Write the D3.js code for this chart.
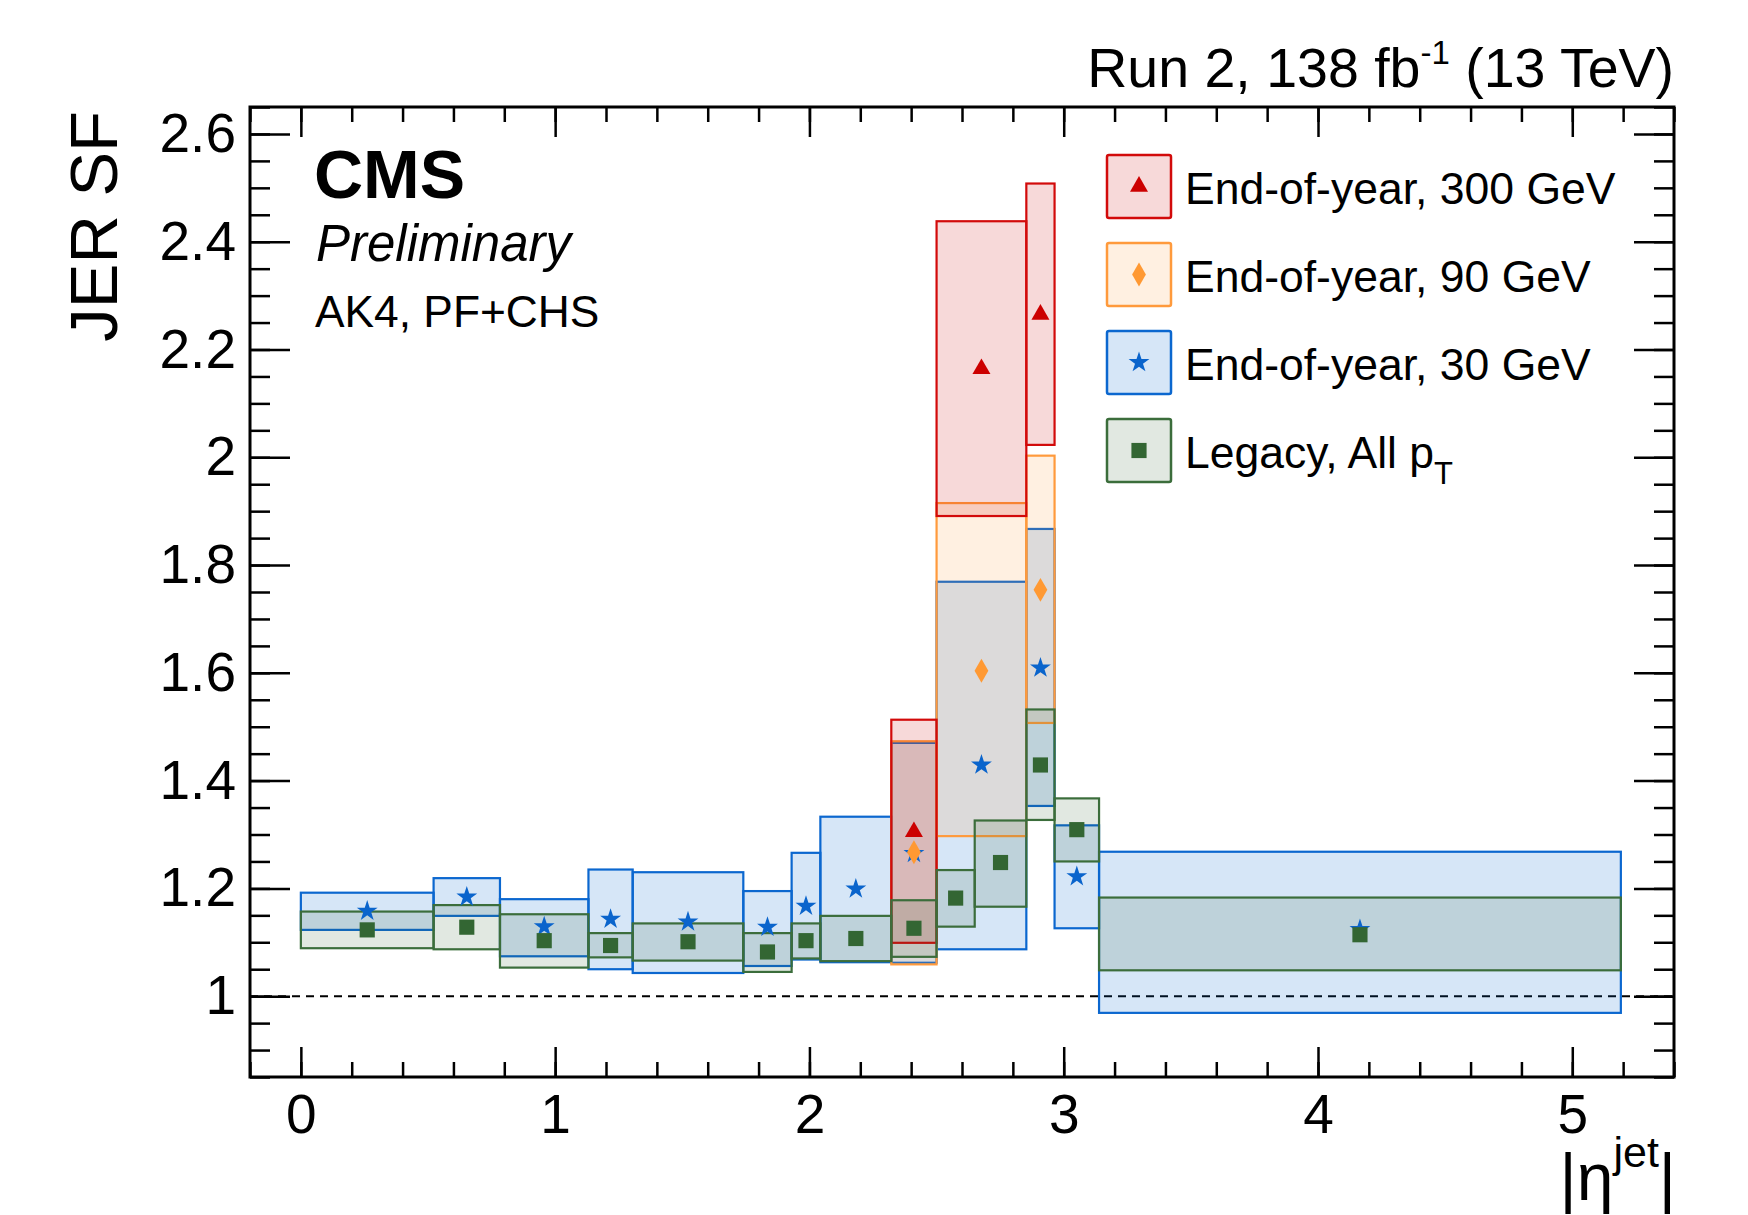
<!DOCTYPE html>
<html>
<head>
<meta charset="utf-8">
<script src="https://cdn.jsdelivr.net/npm/d3@7"></script>
<style>
body { margin: 0; background: #fff; }
svg { display: block; font-family: "Liberation Sans", Arial, Helvetica, sans-serif; }
</style>
</head>
<body>
<svg id="chart" width="1748" height="1215"></svg>
<script>
// |eta| bin edges
const etaEdges = [0, 0.522, 0.783, 1.131, 1.305, 1.740, 1.930, 2.043, 2.322, 2.500, 2.853, 2.964, 3.139, 5.191];
const legacyEdges = [0, 0.522, 0.783, 1.131, 1.305, 1.740, 1.930, 2.043, 2.322, 2.500, 2.650, 2.853, 2.964, 3.139, 5.191];
const fwdEdges = [2.322, 2.500, 2.853, 2.964];

// End-of-year, 300 GeV (forward bins only)
const sf300 = [1.305, 2.164, 2.265];
const sf300Lo = [1.099, 1.891, 2.023];
const sf300Hi = [1.513, 2.438, 2.508];

// End-of-year, 90 GeV (forward bins only)
const sf90 = [1.267, 1.604, 1.754];
const sf90Lo = [1.059, 1.297, 1.507];
const sf90Hi = [1.473, 1.915, 2.003];

// End-of-year, 30 GeV
const sf30 = [1.158, 1.184, 1.129, 1.143, 1.138, 1.128, 1.167, 1.199, 1.265, 1.429, 1.609, 1.222, 1.124];
const sf30Lo = [1.123, 1.149, 1.074, 1.050, 1.043, 1.056, 1.068, 1.063, 1.062, 1.087, 1.353, 1.126, 0.969];
const sf30Hi = [1.192, 1.219, 1.180, 1.235, 1.230, 1.195, 1.266, 1.333, 1.470, 1.769, 1.867, 1.317, 1.268];

// Legacy, all pT
const sfLegacy = [1.123, 1.128, 1.103, 1.094, 1.101, 1.082, 1.103, 1.107, 1.126, 1.182, 1.248, 1.429, 1.309, 1.114];
const sfLegacyLo = [1.089, 1.087, 1.053, 1.072, 1.066, 1.045, 1.070, 1.065, 1.073, 1.129, 1.166, 1.327, 1.250, 1.048];
const sfLegacyHi = [1.157, 1.169, 1.152, 1.117, 1.135, 1.117, 1.135, 1.149, 1.178, 1.234, 1.326, 1.532, 1.367, 1.183];

const xMajor = [0, 1, 2, 3, 4, 5];
const xTickLabels = ["0", "1", "2", "3", "4", "5"];
const yMajor = [1, 1.2, 1.4, 1.6, 1.8, 2, 2.2, 2.4, 2.6];
const yTickLabels = ["1", "1.2", "1.4", "1.6", "1.8", "2", "2.2", "2.4", "2.6"];
const legendLabels = ["End-of-year, 300 GeV", "End-of-year, 90 GeV", "End-of-year, 30 GeV", "Legacy, All p"];

const svg = d3.select("#chart");
const frameL = 250, frameR = 1674, frameT = 107, frameB = 1077;

const x = d3.scaleLinear().domain([-0.2, 5.4]).range([frameL, frameR]);
const y = d3.scaleLinear().domain([0.85, 2.65]).range([frameB, frameT]);

function toBins(edges, c, lo, hi) {
    return c.map((v, i) => ({ x0: edges[i], x1: edges[i + 1], c: v, lo: lo[i], hi: hi[i] }));
}

const series = [
    { bins: toBins(etaEdges, sf30, sf30Lo, sf30Hi), stroke: "#0b67cf", fill: "rgba(0,102,204,0.16)", mark: "#0a64cc", sym: d3.symbolStar, size: 135 },
    { bins: toBins(fwdEdges, sf90, sf90Lo, sf90Hi), stroke: "#ff9a3c", fill: "rgba(255,153,51,0.15)", mark: "#ff9933", sym: d3.symbolDiamond, size: 165 },
    { bins: toBins(fwdEdges, sf300, sf300Lo, sf300Hi), stroke: "#d20a0a", fill: "rgba(204,0,0,0.15)", mark: "#cc0000", sym: d3.symbolTriangle, size: 140 },
    { bins: toBins(legacyEdges, sfLegacy, sfLegacyLo, sfLegacyHi), stroke: "#3b6d3b", fill: "rgba(51,102,51,0.15)", mark: "#336633", sym: d3.symbolSquare, size: 230 }
];

// reference line at 1
svg.append("line")
    .attr("x1", x(-0.2)).attr("x2", x(5.4))
    .attr("y1", y(1)).attr("y2", y(1))
    .attr("stroke", "#000").attr("stroke-width", 2)
    .attr("stroke-dasharray", "8,6");

// uncertainty boxes
series.forEach((s) => {
    svg.append("g")
        .selectAll("rect")
        .data(s.bins)
        .join("rect")
        .attr("x", (d) => x(d.x0))
        .attr("y", (d) => y(d.hi))
        .attr("width", (d) => x(d.x1) - x(d.x0))
        .attr("height", (d) => y(d.lo) - y(d.hi))
        .attr("fill", s.fill)
        .attr("stroke", s.stroke)
        .attr("stroke-width", 2.2);
});

// markers at bin centres
series.forEach((s) => {
    svg.append("g")
        .selectAll("path")
        .data(s.bins)
        .join("path")
        .attr("transform", (d) => `translate(${x((d.x0 + d.x1) / 2)},${y(d.c)})`)
        .attr("d", d3.symbol().type(s.sym).size(s.size))
        .attr("fill", s.mark);
});

// axes, ticks inside the frame
const xMinor = d3.range(-1, 28).map((i) => i * 0.2);
const yMinor = d3.range(17, 54).map((i) => i * 0.05);

function styleAxis(g) {
    g.select(".domain").remove();
    g.selectAll("line").attr("stroke", "#000").attr("stroke-width", 2.5);
    g.selectAll("text").attr("fill", "#000");
    g.attr("font-family", null).attr("font-size", 55);
}

svg.append("g").attr("transform", `translate(0,${frameB})`)
    .call(d3.axisBottom(x).tickValues(xMinor).tickSize(-15).tickFormat(""))
    .call(styleAxis);
svg.append("g").attr("transform", `translate(0,${frameB})`)
    .call(d3.axisBottom(x).tickValues(xMajor).tickSize(-30).tickPadding(17)
        .tickFormat((d, i) => xTickLabels[i]))
    .call(styleAxis);
svg.append("g").attr("transform", `translate(0,${frameT})`)
    .call(d3.axisTop(x).tickValues(xMinor).tickSize(-15).tickFormat(""))
    .call(styleAxis);
svg.append("g").attr("transform", `translate(0,${frameT})`)
    .call(d3.axisTop(x).tickValues(xMajor).tickSize(-30).tickFormat(""))
    .call(styleAxis);

svg.append("g").attr("transform", `translate(${frameL},0)`)
    .call(d3.axisLeft(y).tickValues(yMinor).tickSize(-20).tickFormat(""))
    .call(styleAxis);
svg.append("g").attr("transform", `translate(${frameL},0)`)
    .call(d3.axisLeft(y).tickValues(yMajor).tickSize(-40).tickPadding(14)
        .tickFormat((d, i) => yTickLabels[i]))
    .call(styleAxis);
svg.append("g").attr("transform", `translate(${frameR},0)`)
    .call(d3.axisRight(y).tickValues(yMinor).tickSize(-20).tickFormat(""))
    .call(styleAxis);
svg.append("g").attr("transform", `translate(${frameR},0)`)
    .call(d3.axisRight(y).tickValues(yMajor).tickSize(-40).tickFormat(""))
    .call(styleAxis);

// frame
svg.append("rect")
    .attr("x", frameL).attr("y", frameT)
    .attr("width", frameR - frameL).attr("height", frameB - frameT)
    .attr("fill", "none").attr("stroke", "#000").attr("stroke-width", 3);

// axis titles
svg.append("text")
    .attr("transform", `translate(117,111) rotate(-90)`)
    .attr("text-anchor", "end")
    .attr("font-size", 67)
    .text("JER SF");

const xt = svg.append("text")
    .attr("x", 1676).attr("y", 1200)
    .attr("text-anchor", "end")
    .attr("font-size", 66);
xt.append("tspan").text("|η");
xt.append("tspan").attr("font-size", 43).attr("dy", -33).text("jet");
xt.append("tspan").attr("dy", 33).text("|");

// top-right lumi label
const lumi = svg.append("text")
    .attr("x", 1674).attr("y", 87)
    .attr("text-anchor", "end")
    .attr("font-size", 55.5);
lumi.append("tspan").text("Run 2, 138 fb");
lumi.append("tspan").attr("font-size", 33).attr("dy", -23).text("-1");
lumi.append("tspan").attr("dy", 23).text(" (13 TeV)");

// CMS labels
svg.append("text").attr("x", 314).attr("y", 198)
    .attr("font-size", 68).attr("font-weight", "bold").text("CMS");
svg.append("text").attr("x", 316).attr("y", 261)
    .attr("font-size", 51).attr("font-style", "italic").text("Preliminary");
svg.append("text").attr("x", 315).attr("y", 327)
    .attr("font-size", 44.3).text("AK4, PF+CHS");

// legend
const legendOrder = [2, 1, 0, 3];
const legend = svg.append("g");
legendOrder.forEach((si, i) => {
    const s = series[si];
    const cy = 186.5 + i * 88;
    legend.append("rect")
        .attr("x", 1107).attr("y", cy - 31.5)
        .attr("width", 64).attr("height", 63).attr("rx", 2)
        .attr("fill", s.fill).attr("stroke", s.stroke).attr("stroke-width", 2.5);
    legend.append("path")
        .attr("transform", `translate(1139,${cy})`)
        .attr("d", d3.symbol().type(s.sym).size(s.size))
        .attr("fill", s.mark);
    const t = legend.append("text")
        .attr("x", 1185).attr("y", cy + 17)
        .attr("font-size", 44.5)
        .text(legendLabels[i]);
    if (i === 3) {
        t.append("tspan").attr("font-size", 31).attr("dy", 16).text("T");
    }
});
</script>
</body>
</html>
